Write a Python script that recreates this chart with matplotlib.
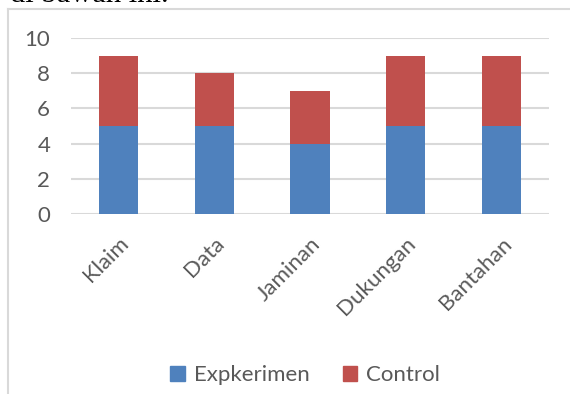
import matplotlib
matplotlib.use("Agg")
import matplotlib.pyplot as plt
from matplotlib.patches import Rectangle
from matplotlib.lines import Line2D

categories = ["Klaim", "Data", "Jaminan", "Dukungan", "Bantahan"]
eksperimen = [5, 5, 4, 5, 5]
control = [4, 3, 3, 4, 4]
series_names = ["Expkerimen", "Control"]
yticks = [0, 2, 4, 6, 8, 10]

blue = "#4F81BD"
red = "#C0504D"
grid = "#D9D9D9"
text_col = "#595959"

plt.rcParams["font.family"] = ["Lato", "DejaVu Sans"]

W, H = 570, 394
fig = plt.figure(figsize=(W / 100, H / 100), dpi=100)

# chart frame (only left and top edges fall inside the page)
fig.add_artist(Line2D([7.5 / W, 7.5 / W], [0, 1 - 9 / H], color=grid, lw=1.5,
                      transform=fig.transFigure))
fig.add_artist(Line2D([7.5 / W, 1], [1 - 9 / H, 1 - 9 / H], color=grid, lw=1.5,
                      transform=fig.transFigure))

# tail of the sentence above the chart
fig.text(10 / W, 1 - 2.5 / H, "di bawah ini.", family="Liberation Serif",
         fontsize=22, color="black", ha="left", va="baseline")

left, right = 71, 549
top, bottom = 38, 214
ax = fig.add_axes([left / W, 1 - bottom / H, (right - left) / W, (bottom - top) / H])

x = range(len(categories))
ax.bar(x, eksperimen, width=0.41, color=blue, label=series_names[0], zorder=3)
ax.bar(x, control, width=0.41, bottom=eksperimen, color=red,
       label=series_names[1], zorder=3)

ax.set_xlim(-0.5, len(categories) - 0.5)
ax.set_ylim(0, 10)
ax.set_yticks(yticks)
ax.yaxis.grid(True, color=grid, lw=1.5, zorder=0)
for s in ax.spines.values():
    s.set_visible(False)
ax.tick_params(length=0, colors=text_col, labelsize=16)
ax.tick_params(axis="y", pad=15)
ax.set_xticks(list(x))
ax.set_xticklabels(categories, rotation=45, ha="right", va="top",
                   rotation_mode="anchor")
ax.tick_params(axis="x", pad=14)

handles = [Rectangle((0, 0), 1, 1, color=blue), Rectangle((0, 0), 1, 1, color=red)]
fig.legend(handles, series_names, loc="center", bbox_to_anchor=(305 / W, 1 - 375 / H),
           ncol=2, frameon=False, fontsize=16, labelcolor=text_col,
           handlelength=0.65, handleheight=0.65, handletextpad=0.4,
           columnspacing=1.5)

fig.savefig("out.png", dpi=100)
